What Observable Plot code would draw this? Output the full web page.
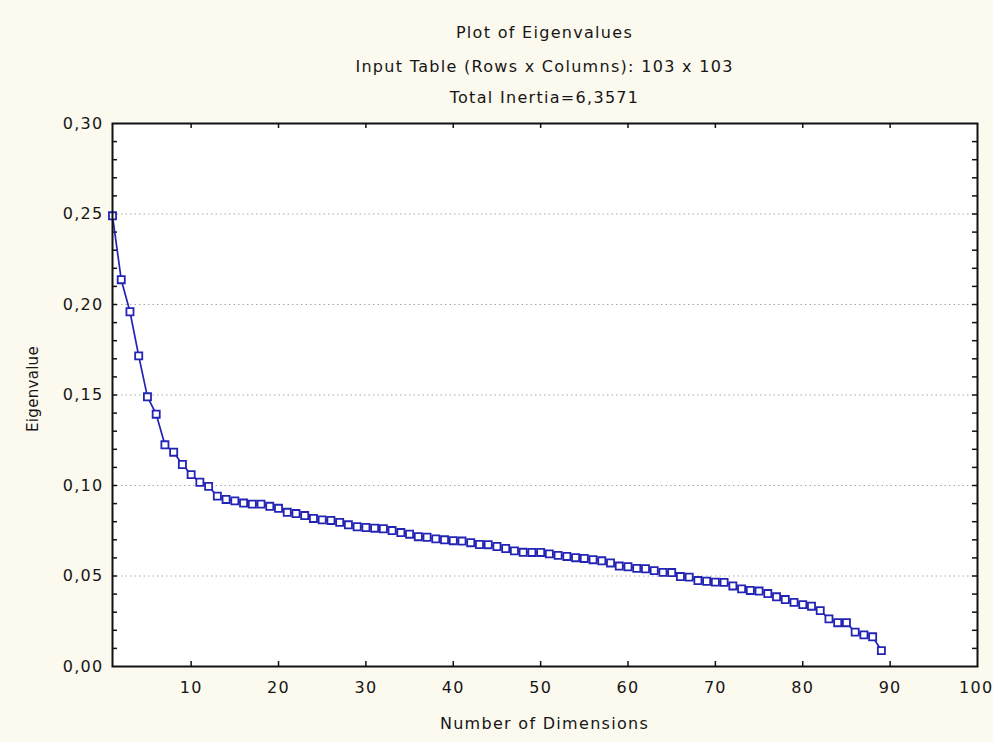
<!DOCTYPE html>
<html><head><meta charset="utf-8">
<script src="https://cdn.jsdelivr.net/npm/d3@7"></script>
<script src="https://cdn.jsdelivr.net/npm/@observablehq/plot@0.6"></script>
<style>
body{margin:0;background:#fcf9ee;font-family:"DejaVu Sans",sans-serif;}
#wrap{width:993px;height:742px;position:relative;overflow:hidden;background:#fcf9ee;}
.t{position:absolute;left:112px;width:865px;text-align:center;font-size:16px;line-height:18px;color:#161616;letter-spacing:1.3px;}
#ylab{position:absolute;left:33px;top:389px;transform:translate(-50%,-50%) rotate(-90deg);font-size:15px;color:#161616;white-space:nowrap;letter-spacing:0.3px;}
#chart{position:absolute;left:0;top:113px;}
</style></head>
<body><div id="wrap">
<div class="t" style="top:24px">Plot of Eigenvalues</div>
<div class="t" style="top:58px">Input Table (Rows x Columns): 103 x 103</div>
<div class="t" style="top:89px">Total Inertia=6,3571</div>
<div id="ylab">Eigenvalue</div>
<div class="t" style="top:715px">Number of Dimensions</div>
<div id="chart"></div>
</div>
<script>
const dimensions = d3.range(1, 90);
const eigenvalues = [
  0.249, 0.2137, 0.196, 0.1716, 0.149, 0.1394, 0.1225, 0.1184, 0.1116, 0.106,
  0.1018, 0.0995, 0.0941, 0.0923, 0.0915, 0.0903, 0.0897, 0.0897, 0.0885, 0.0874,
  0.0852, 0.0845, 0.0834, 0.0818, 0.081, 0.0807, 0.0796, 0.0783, 0.0772, 0.0768,
  0.0764, 0.0761, 0.0751, 0.074, 0.0731, 0.0717, 0.0714, 0.0705, 0.07, 0.0695,
  0.0693, 0.0684, 0.0674, 0.0673, 0.0663, 0.0652, 0.0639, 0.0631, 0.063, 0.063,
  0.0622, 0.0614, 0.0608, 0.0601, 0.0597, 0.059, 0.0584, 0.0572, 0.0555, 0.0551,
  0.0542, 0.054, 0.053, 0.052, 0.0519, 0.0497, 0.0494, 0.0475, 0.0471, 0.0466,
  0.0465, 0.0445, 0.0429, 0.042, 0.0417, 0.0403, 0.0385, 0.037, 0.0354, 0.0342,
  0.0333, 0.0309, 0.0263, 0.0242, 0.0242, 0.019, 0.0175, 0.0164, 0.0088
];
const xTicks = [10, 20, 30, 40, 50, 60, 70, 80, 90, 100];
const yTicks = [0, 0.05, 0.10, 0.15, 0.20, 0.25, 0.30];
const yMinor = d3.range(1, 30).map(i => i / 100);
const gridY = [0.05, 0.10, 0.15, 0.20, 0.25];

const data = dimensions.map((d, i) => ({dim: d, ev: eigenvalues[i]}));

const W = 993, H = 629, mL = 112, mR = 16, mT = 10, mB = 76;
const pw = W - mL - mR, ph = H - mT - mB;
const tick = 5;
const blue = "#2424b4";

const chart = Plot.plot({
  width: W, height: H,
  marginLeft: mL, marginRight: mR, marginTop: mT, marginBottom: mB,
  style: {background: "transparent", fontFamily: "DejaVu Sans, sans-serif", fontSize: "16px", color: "#161616", letterSpacing: "1.3px"},
  x: {domain: [1, 100]},
  y: {domain: [0, 0.3]},
  marks: [
    Plot.frame({fill: "white"}),
    Plot.ruleY(gridY, {stroke: "#aaa", strokeDasharray: "1.5,3"}),
    Plot.axisX({ticks: xTicks.slice(0, -1), tickSize: 0, tickPadding: 15, label: null}),
    Plot.axisX({ticks: xTicks.slice(-1), tickSize: 0, tickPadding: 15, label: null, textAnchor: "end", dx: 16}),
    Plot.axisY({ticks: yTicks, tickSize: 0, tickPadding: 9, label: null, tickFormat: d => d.toFixed(2).replace(".", ",")}),
    // inward ticks
    Plot.tickY(yMinor, {y: d => d, insetRight: pw - tick, stroke: "#111", strokeWidth: 1.5}),
    Plot.tickY(yMinor, {y: d => d, insetLeft: pw - tick, stroke: "#111", strokeWidth: 1.5}),
    Plot.tickX(xTicks.slice(0, -1), {x: d => d, insetTop: ph - tick, stroke: "#111", strokeWidth: 1.5}),
    Plot.tickX(xTicks.slice(0, -1), {x: d => d, insetBottom: ph - tick, stroke: "#111", strokeWidth: 1.5}),
    Plot.line(data, {x: "dim", y: "ev", stroke: blue, strokeWidth: 1.7}),
    Plot.dot(data, {x: "dim", y: "ev", symbol: "square", r: 4, fill: "white", stroke: blue, strokeWidth: 1.8}),
    Plot.frame({stroke: "#111", strokeWidth: 2})
  ]
});
document.getElementById("chart").appendChild(chart);
</script>
</body></html>
